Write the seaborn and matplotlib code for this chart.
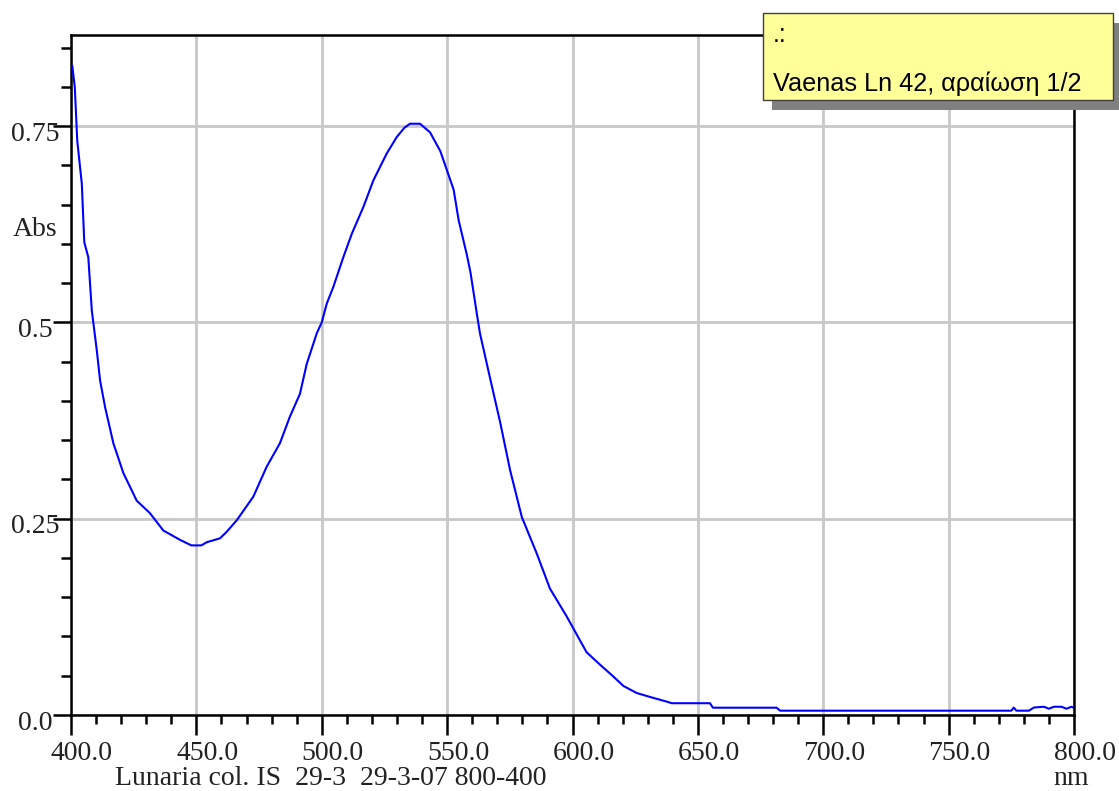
import matplotlib
matplotlib.use("Agg")
import matplotlib.pyplot as plt
from matplotlib.ticker import MultipleLocator
from matplotlib.transforms import ScaledTranslation
from matplotlib.patches import Rectangle
import seaborn as sns
import pandas as pd

# Absorption spectrum (wavelength in nm, absorbance)
wavelength_nm = [
    400.5, 401.5, 402.5, 404.3, 405.3, 406.9, 408.3, 410.3, 411.6, 413.6,
    416.9, 420.9, 426.2, 431.5, 436.8, 443.5, 448.0, 452.0, 454.1, 459.4,
    462.0, 466.1, 472.7, 478.0, 483.3, 487.3, 491.3, 494.0, 498.0, 500.0,
    502.0, 504.6, 508.6, 512.0, 516.6, 520.6, 525.9, 529.9, 533.0, 535.2,
    539.2, 543.2, 547.3, 552.6, 554.6, 557.8, 559.3, 561.9, 563.1, 567.2,
    571.2, 575.1, 579.8, 585.7, 591.0, 597.6, 605.6, 611.0, 616.3, 620.3,
    625.6, 630.9, 637.6, 639.6, 654.8, 656.0, 681.4, 682.8, 775.0, 776.0,
    777.0, 782.0, 784.0, 788.0, 790.0, 792.0, 795.0, 797.0, 799.0, 800.0,
]
absorbance = [
    0.827, 0.800, 0.731, 0.677, 0.602, 0.583, 0.515, 0.464, 0.426, 0.392,
    0.346, 0.308, 0.273, 0.257, 0.235, 0.223, 0.216, 0.216, 0.220, 0.225,
    0.233, 0.248, 0.278, 0.316, 0.346, 0.380, 0.409, 0.447, 0.486, 0.500,
    0.524, 0.545, 0.583, 0.613, 0.647, 0.681, 0.715, 0.736, 0.748, 0.753,
    0.753, 0.742, 0.718, 0.669, 0.630, 0.587, 0.564, 0.510, 0.486, 0.428,
    0.372, 0.312, 0.252, 0.206, 0.161, 0.126, 0.080, 0.064, 0.049, 0.037,
    0.028, 0.023, 0.017, 0.015, 0.015, 0.0093, 0.0093, 0.0055, 0.0055, 0.0095,
    0.0055, 0.0055, 0.0095, 0.0105, 0.0080, 0.0105, 0.0105, 0.0080, 0.0105, 0.0090,
]

x_major_ticks = [400, 450, 500, 550, 600, 650, 700, 750, 800]
x_tick_labels = ["400.0", "450.0", "500.0", "550.0", "600.0",
                 "650.0", "700.0", "750.0", "800.0"]
y_major_ticks = [0.0, 0.25, 0.5, 0.75]
y_tick_labels = ["0.0", "0.25", "0.5", "0.75"]

y_label = "Abs"
x_unit = "nm"
run_caption = "Lunaria col. IS  29-3  29-3-07 800-400"
note_title = ".:"
note_text = "Vaenas Ln 42, αραίωση 1/2"

sns.set_theme(style="white")
plt.rcParams["font.family"] = ["Liberation Serif", "DejaVu Serif"]

W, H = 1119, 791
fig = plt.figure(figsize=(W / 100, H / 100), dpi=100)
fig.patch.set_facecolor("white")

left, right, top, bottom = 71, 1074, 35, 715
ax = fig.add_axes([left / W, 1 - bottom / H, (right - left) / W, (bottom - top) / H])
ax.set_facecolor("white")

df = pd.DataFrame({"nm": wavelength_nm, "Abs": absorbance})
sns.lineplot(data=df, x="nm", y="Abs", ax=ax, color="#0000FF",
             linewidth=1.5, estimator=None, zorder=3)

ax.set_xlim(400, 800)
ax.set_ylim(0, 0.866)
ax.set_xlabel("")
ax.set_ylabel("")

ax.set_xticks(x_major_ticks)
ax.set_xticklabels(x_tick_labels)
ax.set_yticks(y_major_ticks)
ax.set_yticklabels(y_tick_labels)
ax.xaxis.set_minor_locator(MultipleLocator(10))
ax.yaxis.set_minor_locator(MultipleLocator(0.05))

ax.grid(True, which="major", color="#C8C8C8", linewidth=2.0)
ax.set_axisbelow(True)

for side in ["left", "right", "top", "bottom"]:
    ax.spines[side].set_visible(True)
    ax.spines[side].set_color("black")
    ax.spines[side].set_linewidth(1.8)

ax.tick_params(axis="x", which="major", direction="out", bottom=True,
               length=14.4, width=1.8, color="black", pad=4,
               labelsize=20, labelcolor="#222222")
ax.tick_params(axis="x", which="minor", direction="out", bottom=True,
               length=6.5, width=1.8, color="black")
ax.tick_params(axis="y", which="major", direction="out", left=True,
               length=13, width=1.8, color="black", pad=13,
               labelsize=20, labelcolor="#222222")
ax.tick_params(axis="y", which="minor", direction="out", left=True,
               length=7.2, width=1.8, color="black")

x_shift = ScaledTranslation(11 / 100, 0, fig.dpi_scale_trans)
for lbl in ax.get_xticklabels():
    lbl.set_transform(lbl.get_transform() + x_shift)
y_shift = ScaledTranslation(0, -5 / 100, fig.dpi_scale_trans)
for lbl in ax.get_yticklabels():
    lbl.set_horizontalalignment("center")
    lbl.set_transform(lbl.get_transform() + y_shift)

# Axis captions
fig.text(35 / W, 1 - 229 / H, y_label, fontsize=20, color="#222222",
         ha="center", va="center")
fig.text(115 / W, 1 - 785 / H, run_caption, fontsize=20, color="#222222",
         ha="left", va="baseline")
fig.text(1053 / W, 1 - 785 / H, x_unit, fontsize=20, color="#222222",
         ha="left", va="baseline")

# Sample note box with drop shadow
bx0, by0, bx1, by1 = 763, 13, 1113, 100
shadow = Rectangle(((bx0 + 9) / W, 1 - (by1 + 10) / H), (bx1 - bx0) / W,
                   (by1 - by0) / H, transform=fig.transFigure,
                   facecolor="#808080", edgecolor="none", zorder=10)
box = Rectangle((bx0 / W, 1 - by1 / H), (bx1 - bx0) / W, (by1 - by0) / H,
                transform=fig.transFigure, facecolor="#FFFF99",
                edgecolor="#404040", linewidth=1.0, zorder=11)
fig.add_artist(shadow)
fig.add_artist(box)
sans = ["Liberation Sans", "DejaVu Sans"]
fig.text(773 / W, 1 - 42 / H, note_title, fontsize=18.2, color="black",
         family=sans, ha="left", va="baseline", zorder=12)
fig.text(773 / W, 1 - 91 / H, note_text, fontsize=18.2, color="black",
         family=sans, ha="left", va="baseline", zorder=12)

fig.savefig("out.png", dpi=100)
